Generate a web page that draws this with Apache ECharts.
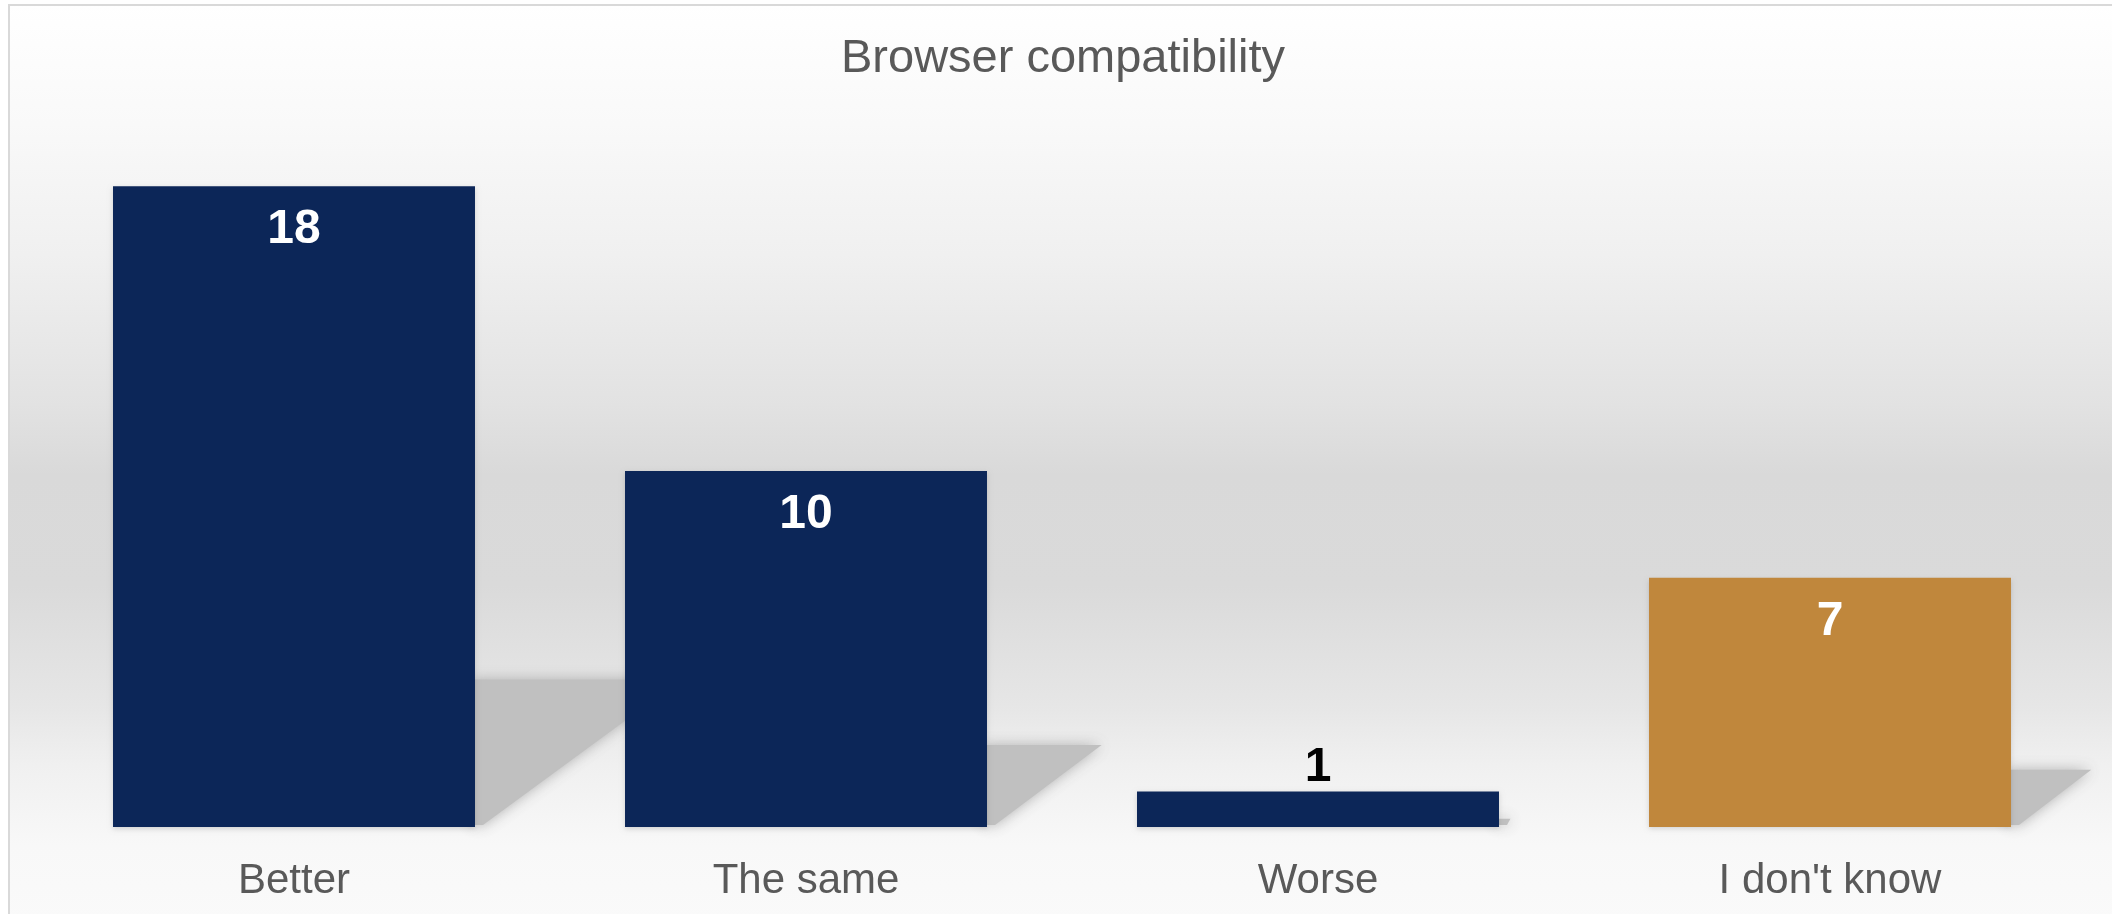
<!DOCTYPE html>
<html>
<head>
<meta charset="utf-8">
<script src="https://cdn.jsdelivr.net/npm/echarts@6/dist/echarts.min.js"></script>
<style>
html,body{margin:0;padding:0;background:#fff;}
#main{width:2112px;height:914px;}
</style>
</head>
<body>
<div id="main"></div>
<script>
const titleText = 'Browser compatibility';
const categories = ['Better', 'The same', 'Worse', "I don't know"];
const values = [18, 10, 1, 7];

const NAVY = '#0c2658';
const ORANGE = '#c0873c';
const barColors = [NAVY, NAVY, NAVY, ORANGE];
const FONT = '"Liberation Sans", Arial, sans-serif';

const chart = echarts.init(document.getElementById('main'), null, {renderer: 'canvas'});

const barData = values.map((v, i) => {
  const small = v < 3;
  return {
    value: v,
    itemStyle: {color: barColors[i]},
    label: small
      ? {position: 'top', distance: 0, color: '#000000'}
      : {position: 'insideTop', distance: 20, color: '#ffffff'}
  };
});

const option = {
  animation: false,
  backgroundColor: '#ffffff',
  graphic: [{
    type: 'rect',
    z: -10,
    silent: true,
    shape: {x: 9, y: 5, width: 2200, height: 1000},
    style: {
      fill: new echarts.graphic.LinearGradient(0, 0, 0, 1, [
        {offset: 0.00, color: '#ffffff'},
        {offset: 0.12, color: '#f9f9f9'},
        {offset: 0.25, color: '#f0f0f0'},
        {offset: 0.40, color: '#e2e2e2'},
        {offset: 0.47, color: '#d9d9d9'},
        {offset: 0.58, color: '#dadada'},
        {offset: 0.70, color: '#e6e6e6'},
        {offset: 0.76, color: '#f0f0f0'},
        {offset: 0.84, color: '#f8f8f8'},
        {offset: 1.00, color: '#fcfcfc'}
      ]),
      stroke: '#d9d9d9',
      lineWidth: 2
    }
  }],
  title: {
    text: titleText,
    left: 841,
    top: 36,
    padding: 0,
    textStyle: {fontFamily: FONT, fontSize: 47, fontWeight: 'normal', color: '#595959'}
  },
  grid: {left: 38, right: 26, top: 115, bottom: 87},
  xAxis: {
    type: 'category',
    data: categories,
    axisLine: {show: false},
    axisTick: {show: false},
    splitLine: {show: false},
    axisLabel: {margin: 33, fontFamily: FONT, fontSize: 42, color: '#595959'}
  },
  yAxis: {
    type: 'value',
    min: 0,
    max: 20,
    show: false,
    splitLine: {show: false}
  },
  series: [
    {
      type: 'custom',
      z: 1,
      silent: true,
      clip: false,
      data: values.map((v, i) => [i, v]),
      renderItem: function (params, api) {
        const idx = api.value(0);
        const top = api.coord([idx, api.value(1)]);
        const base = api.coord([idx, 0]);
        const band = api.size([1, 0])[0];
        const right = base[0] + band * 0.3535;
        const h = (base[1] - top[1]) * 0.23;
        const dx = Math.max(10, h * 1.4);
        return {
          type: 'polygon',
          shape: {points: [[right - 4, base[1] - 2], [right - 4, base[1] - h], [right + dx, base[1] - h], [right + 8, base[1] - 2]]},
          style: {fill: '#c0c0c0', shadowBlur: 14, shadowColor: 'rgba(170,170,170,0.9)'}
        };
      }
    },
    {
      type: 'bar',
      z: 2,
      data: barData,
      barCategoryGap: '29.3%',
      itemStyle: {shadowBlur: 5, shadowOffsetY: 2, shadowColor: 'rgba(0,0,0,0.15)'},
      label: {
        show: true,
        fontFamily: FONT,
        fontSize: 48,
        fontWeight: 'bold'
      }
    }
  ]
};
chart.setOption(option);
</script>
</body>
</html>
